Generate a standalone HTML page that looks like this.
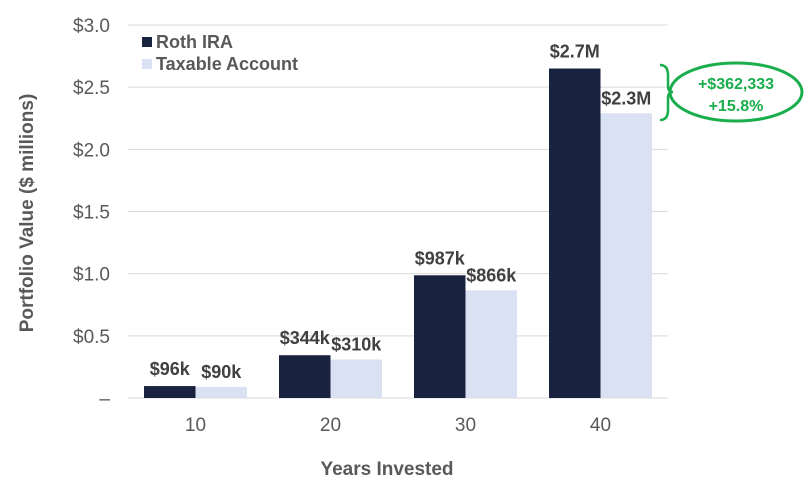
<!DOCTYPE html>
<html><head><meta charset="utf-8"><style>
body{margin:0;background:#fff;}
svg{display:block;font-family:"Liberation Sans",sans-serif;}
</style></head><body>
<svg id="chart" width="804" height="484"></svg>
<script>
const categories=["10","20","30","40"];
const rothValues=[0.096,0.344,0.987,2.65];
const taxableValues=[0.090,0.310,0.866,2.29];
const rothLabels=["$96k","$344k","$987k","$2.7M"];
const taxableLabels=["$90k","$310k","$866k","$2.3M"];
const yTicks=[0,0.5,1.0,1.5,2.0,2.5,3.0];
const yTickLabels=["–","$0.5","$1.0","$1.5","$2.0","$2.5","$3.0"];

const svg=document.getElementById('chart');
const NS="http://www.w3.org/2000/svg";
const x0=128,x1=668,yBase=398,yTop=25,yMax=3.0;
const y=v=>yBase-(v/yMax)*(yBase-yTop);
const band=(x1-x0)/categories.length;
const bw=51.5;
function mk(tag,attrs,name,text){const e=document.createElementNS(NS,tag);for(const k in attrs)e.setAttribute(k,attrs[k]);


if(text!==undefined)e.textContent=text;svg.appendChild(e);return e;}

yTicks.forEach((t,i)=>{
  if(t>0)mk('line',{x1:x0,x2:x1,y1:y(t),y2:y(t),stroke:'#d9d9d9','stroke-width':1},'gridline');
  mk('text',{x:110,y:y(t)+7,'text-anchor':'end','font-size':19,fill:'#595959'},'y-tick-label',yTickLabels[i]);
});
mk('line',{x1:x0,x2:x1,y1:yBase,y2:yBase,stroke:'#d9d9d9','stroke-width':1},'x-axis-line');

categories.forEach((c,i)=>{
  const cx=x0+band*(i+0.5);
  mk('rect',{x:cx-bw,y:y(rothValues[i]),width:bw,height:yBase-y(rothValues[i]),fill:'#19223f'},'bar-roth-'+c);
  mk('rect',{x:cx,y:y(taxableValues[i]),width:bw,height:yBase-y(taxableValues[i]),fill:'#d9e1f2'},'bar-taxable-'+c);
  mk('text',{x:cx-bw/2,y:y(rothValues[i])-11,'text-anchor':'middle','font-size':18,'font-weight':'bold',fill:'#404040'},'value-label-roth',rothLabels[i]);
  mk('text',{x:cx+bw/2,y:y(taxableValues[i])-9,'text-anchor':'middle','font-size':18,'font-weight':'bold',fill:'#404040'},'value-label-taxable',taxableLabels[i]);
  mk('text',{x:cx,y:431,'text-anchor':'middle','font-size':19,fill:'#595959'},'x-tick-label',c);
});

mk('text',{x:387,y:475,'text-anchor':'middle','font-size':19,'font-weight':'bold',fill:'#595959'},'x-axis-title','Years Invested');
mk('text',{x:0,y:0,transform:'translate(33,213) rotate(-90)','text-anchor':'middle','font-size':19,'font-weight':'bold',fill:'#595959'},'y-axis-title','Portfolio Value ($ millions)');

mk('rect',{x:142,y:37,width:10,height:10,fill:'#19223f'},'legend-swatch-roth');
mk('text',{x:156,y:48,'font-size':18,'font-weight':'bold',fill:'#595959'},'legend-entry-roth','Roth IRA');
mk('rect',{x:142,y:59,width:10,height:10,fill:'#d9e1f2'},'legend-swatch-taxable');
mk('text',{x:156,y:70,'font-size':18,'font-weight':'bold',fill:'#595959'},'legend-entry-taxable','Taxable Account');

mk('path',{d:'M660,65 Q668,65 668,75 L668,86 Q668,92 673,92 Q668,92 668,98 L668,110 Q668,120 660,120',fill:'none',stroke:'#1aad4b','stroke-width':2.5},'difference-brace');
mk('ellipse',{cx:736,cy:92,rx:66,ry:29,fill:'none',stroke:'#1aad4b','stroke-width':3},'difference-ellipse');
mk('text',{x:736,y:89,'text-anchor':'middle','font-size':16,'font-weight':'bold',fill:'#1aad4b'},'difference-amount','+$362,333');
mk('text',{x:736,y:111,'text-anchor':'middle','font-size':16,'font-weight':'bold',fill:'#1aad4b'},'difference-percent','+15.8%');
</script>
</body></html>
